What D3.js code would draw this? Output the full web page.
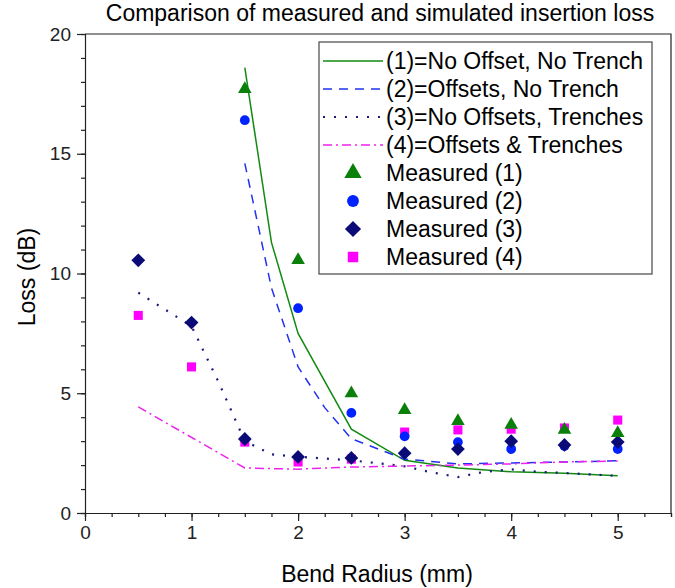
<!DOCTYPE html>
<html>
<head>
<meta charset="utf-8">
<script src="https://cdn.jsdelivr.net/npm/d3@7"></script>
<style>
	body { margin: 0; background: #fff; }
	svg { font-family: "Liberation Sans", Arial, sans-serif; }
	.axis path, .axis line { stroke: #222; stroke-width: 1.2; }
	.axis text { font-size: 19px; fill: #222; }
</style>
</head>
<body>
<svg></svg>
<script>
// simulated curves (bend radius in mm, loss in dB)
const sim1X = [1.5, 1.75, 2, 2.5, 3, 3.5, 4, 4.5, 5]
const sim1Y = [18.6, 11.3, 7.5, 3.5, 2.2, 1.88, 1.72, 1.66, 1.56]
const sim2X = [1.5, 1.75, 2, 2.25, 2.5, 3, 3.5, 4, 4.5, 5]
const sim2Y = [14.6, 9.4, 6.1, 4.4, 3.1, 2.25, 2.05, 2.09, 2.13, 2.18]
const sim3X = [0.5, 1, 1.25, 1.5, 1.75, 2, 2.5, 3, 3.25, 3.5, 3.75, 4, 4.25, 4.5, 5]
const sim3Y = [9.2, 7.8, 5.5, 3.0, 2.45, 2.35, 2.2, 1.95, 1.7, 1.5, 1.72, 1.82, 1.72, 1.67, 1.55]
const sim4X = [0.5, 1.5, 2, 2.5, 3, 3.5, 4, 4.5, 5]
const sim4Y = [4.43, 1.88, 1.83, 1.92, 1.96, 2.0, 2.05, 2.13, 2.17]

// measured points
const measX1 = [1.5, 2, 2.5, 3, 3.5, 4, 4.5, 5]
const meas1 = [17.7, 10.56, 5.0, 4.3, 3.84, 3.68, 3.47, 3.34]
const meas2 = [16.4, 8.55, 4.18, 3.2, 2.96, 2.67, 2.8, 2.67]
const measX3 = [0.5, 1, 1.5, 2, 2.5, 3, 3.5, 4, 4.5, 5]
const meas3 = [10.55, 7.95, 3.09, 2.34, 2.3, 2.5, 2.67, 3.0, 2.84, 2.96]
const meas4 = [8.25, 6.1, 2.96, 2.13, 2.25, 3.38, 3.47, 3.5, 3.55, 3.88]

const xTicks = [0, 1, 2, 3, 4, 5]
const yTicks = [0, 5, 10, 15, 20]

const legendLabels = [
	'(1)=No Offset, No Trench',
	'(2)=Offsets, No Trench',
	'(3)=No Offsets, Trenches',
	'(4)=Offsets & Trenches',
	'Measured (1)',
	'Measured (2)',
	'Measured (3)',
	'Measured (4)'
]

const W = 675, H = 588
const margin = {top: 34, right: 4, bottom: 75, left: 85}
const width = W - margin.left - margin.right,
	height = H - margin.top - margin.bottom

const svg = d3.select('svg').attr('width', W).attr('height', H)
const g = svg.append('g').attr('transform', `translate(${margin.left},${margin.top})`)

const x = d3.scaleLinear().domain([0, 5.5]).range([0, width])
const y = d3.scaleLinear().domain([0, 20]).range([height, 0])

// axes: major ticks + minor ticks
g.append('g')
	.attr('class', 'axis')
	.attr('transform', `translate(0,${height})`)
	.call(d3.axisBottom(x).tickValues(d3.range(0, 5.51, 0.25)).tickSize(4).tickFormat(''))
g.append('g')
	.attr('class', 'axis')
	.attr('transform', `translate(0,${height})`)
	.call(d3.axisBottom(x).tickValues(xTicks).tickSize(8).tickPadding(5).tickFormat(d3.format('d')))
	.call(a => a.select('.domain').remove())

g.append('g')
	.attr('class', 'axis')
	.call(d3.axisLeft(y).tickValues(d3.range(0, 20.1, 1)).tickSize(4).tickFormat(''))
g.append('g')
	.attr('class', 'axis')
	.call(d3.axisLeft(y).tickValues(yTicks).tickSize(8).tickPadding(6).tickFormat(d3.format('d')))
	.call(a => a.select('.domain').remove())

// top and right frame
g.append('path')
	.attr('d', `M0,0H${width}V${height}`)
	.attr('fill', 'none')
	.attr('stroke', '#222')
	.attr('stroke-width', 1.2)

// titles
svg.append('text')
	.attr('x', 380).attr('y', 21)
	.attr('text-anchor', 'middle')
	.style('font-size', '23px')
	.text('Comparison of measured and simulated insertion loss')
svg.append('text')
	.attr('x', 377).attr('y', 582)
	.attr('text-anchor', 'middle')
	.style('font-size', '23px')
	.text('Bend Radius (mm)')
svg.append('text')
	.attr('transform', 'translate(35,277) rotate(-90)')
	.attr('text-anchor', 'middle')
	.style('font-size', '23px')
	.text('Loss (dB)')

// line series
const series = [
	{xs: sim1X, ys: sim1Y, color: '#128a12', dash: null, w: 1.5},
	{xs: sim2X, ys: sim2Y, color: '#2233ee', dash: '9,7', w: 1.5},
	{xs: sim3X, ys: sim3Y, color: '#1a1a80', dash: '2,9', w: 2.2},
	{xs: sim4X, ys: sim4Y, color: '#ee22ee', dash: '9,4,2,4', w: 1.5}
]
const line = d3.line().x(d => x(d[0])).y(d => y(d[1]))

series.forEach(s => {
	g.append('path')
		.datum(d3.zip(s.xs, s.ys))
		.attr('d', line)
		.attr('fill', 'none')
		.attr('stroke', s.color)
		.attr('stroke-width', s.w)
		.attr('stroke-dasharray', s.dash)
})

// markers
const markers = [
	{xs: measX3, ys: meas4, color: '#ff00ff', sym: d3.symbolSquare, size: 82, rot: 0, lsize: 110},
	{xs: measX1, ys: meas2, color: '#0022ff', sym: d3.symbolCircle, size: 75, rot: 0, lsize: 110},
	{xs: measX3, ys: meas3, color: '#0b0b78', sym: d3.symbolSquare, size: 95, rot: 45, lsize: 130},
	{xs: measX1, ys: meas1, color: '#0a7f0a', sym: d3.symbolTriangle, size: 80, rot: 0, lsize: 130}
]
markers.forEach(m => {
	g.selectAll(null)
		.data(d3.zip(m.xs, m.ys))
		.enter().append('path')
		.attr('transform', d => `translate(${x(d[0])},${y(d[1])}) rotate(${m.rot})`)
		.attr('d', d3.symbol().type(m.sym).size(m.size))
		.attr('fill', m.color)
})

// legend
const lg = svg.append('g').attr('transform', 'translate(319,42)')
lg.append('rect')
	.attr('width', 333).attr('height', 232)
	.attr('fill', '#fff')
	.attr('stroke', '#555')
	.attr('stroke-width', 1.3)

const legendItems = lg.selectAll('g.item')
	.data(legendLabels)
	.enter().append('g')
	.attr('class', 'item')
	.attr('transform', (d, i) => `translate(0,${19 + i * 28})`)

legendItems.filter((d, i) => i < 4)
	.append('line')
	.attr('x1', 4).attr('x2', 64)
	.attr('stroke', (d, i) => series[i].color)
	.attr('stroke-width', (d, i) => series[i].w)
	.attr('stroke-dasharray', (d, i) => series[i].dash)

const legendMarker = [markers[3], markers[1], markers[2], markers[0]]
legendItems.filter((d, i) => i >= 4)
	.append('path')
	.attr('transform', (d, i) => `translate(34,0) rotate(${legendMarker[i].rot})`)
	.attr('d', (d, i) => d3.symbol().type(legendMarker[i].sym).size(legendMarker[i].lsize)())
	.attr('fill', (d, i) => legendMarker[i].color)

legendItems.append('text')
	.attr('x', 67)
	.attr('dy', '0.35em')
	.style('font-size', '23px')
	.text(d => d)
</script>
</body>
</html>
